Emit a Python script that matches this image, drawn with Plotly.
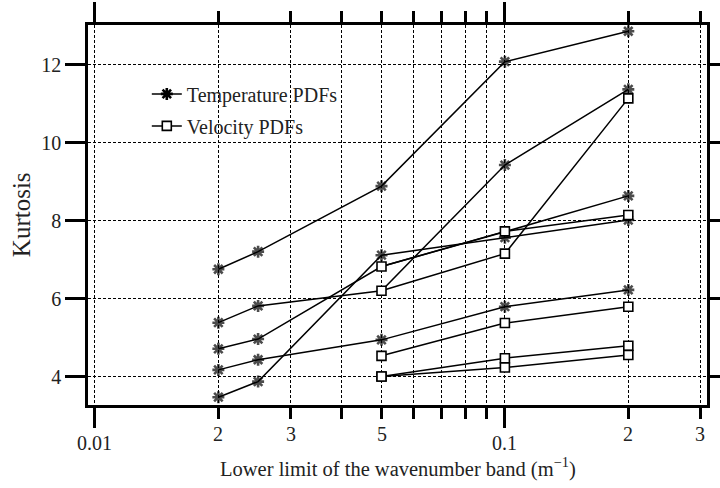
import math
import plotly.graph_objects as go

# ---------------- data ----------------
x_temp = [0.02, 0.025, 0.05, 0.1, 0.2]
temp_series = [
    [6.76, 7.21, 8.89, 12.08, 12.86],
    [5.39, 5.82, 6.21, 9.43, 11.37],
    [4.72, 4.97, 6.83, 7.72, 8.64],
    [4.18, 4.44, 4.95, 5.80, 6.23],
    [3.48, 3.88, 7.12, 7.57, 8.02],
]
x_vel = [0.05, 0.1, 0.2]
vel_series = [
    [6.21, 7.16, 11.14],
    [6.83, 7.73, 8.15],
    [4.54, 5.38, 5.80],
    [4.01, 4.48, 4.80],
    [4.01, 4.24, 4.56],
]
major_ticks = [0.01, 0.1]
minor_ticks = [0.02, 0.03, 0.04, 0.05, 0.06, 0.07, 0.08, 0.09, 0.2, 0.3]
x_tick_labels = [(0.01, "0.01", True), (0.02, "2", False), (0.03, "3", False),
                 (0.05, "5", False), (0.1, "0.1", True), (0.2, "2", False),
                 (0.3, "3", False)]
y_ticks = [4, 6, 8, 10, 12]
legend_names = ["Temperature PDFs", "Velocity PDFs"]

FONT = "Liberation Serif"
fig = go.Figure()

# hide temperature markers where a velocity square sits on the same spot
def covered(x, y):
    for vs in vel_series:
        for xv, yv in zip(x_vel, vs):
            if abs(xv - x) < 1e-9 and abs(yv - y) < 0.05:
                return True
    return False

for ys in temp_series:
    sizes = [0 if covered(x, y) else 10 for x, y in zip(x_temp, ys)]
    fig.add_trace(go.Scatter(
        x=x_temp, y=ys, mode="lines+markers", showlegend=False,
        line=dict(color="black", width=1.5),
        marker=dict(symbol="asterisk-open", size=sizes, color="black",
                    line=dict(color="black", width=2.6)),
    ))
for ys in vel_series:
    fig.add_trace(go.Scatter(
        x=x_vel, y=ys, mode="lines+markers", showlegend=False,
        line=dict(color="black", width=1.5),
        marker=dict(symbol="square", size=9, color="white",
                    line=dict(color="black", width=1.6)),
    ))

# legend entries
fig.add_trace(go.Scatter(
    x=[None], y=[None], mode="lines+markers", name=legend_names[0],
    legendgroup="t", line=dict(color="black", width=1.5),
    marker=dict(symbol="asterisk-open", size=10, color="black",
                line=dict(color="black", width=2.6))))
fig.add_trace(go.Scatter(
    x=[None], y=[None], mode="lines+markers", name=legend_names[1],
    legendgroup="v", line=dict(color="black", width=1.5),
    marker=dict(symbol="square", size=9, color="white",
                line=dict(color="black", width=1.6))))

grid = dict(showgrid=True, gridcolor="black", gridwidth=1, griddash="3px,2px")

fig.update_xaxes(
    type="log", range=[-2.017, -0.507], automargin=False,
    tickmode="array", tickvals=major_ticks, showticklabels=False,
    ticks="outside", ticklen=20, tickwidth=2.5, tickcolor="black",
    showline=True, linewidth=2.5, linecolor="black", mirror="allticks",
    zeroline=False,
    minor=dict(tickmode="array", tickvals=minor_ticks, ticks="outside",
               ticklen=11, tickwidth=2.5, tickcolor="black", **grid),
    **grid,
)
fig.update_yaxes(
    range=[3.28, 13.02], tickmode="array", tickvals=y_ticks, automargin=False,
    ticks="outside", ticklen=20, tickwidth=2.5, tickcolor="black",
    tickfont=dict(family=FONT, size=20, color="#222"),
    showline=True, linewidth=2.5, linecolor="black", mirror="allticks",
    zeroline=False, **grid,
)

annotations = []
for xv, txt, is_major in x_tick_labels:
    annotations.append(dict(
        x=math.log10(xv), y=-0.1 if is_major else -0.076, xref="x", yref="paper",
        text=txt, showarrow=False, xanchor="center", yanchor="middle",
        font=dict(family=FONT, size=20, color="#222")))
annotations.append(dict(
    x=0.5, y=-0.165, xref="paper", yref="paper", xanchor="center",
    yanchor="middle", showarrow=False,
    text="Lower limit of the wavenumber band (m<sup>−1</sup>)",
    font=dict(family=FONT, size=20.5, color="#222")))
annotations.append(dict(
    x=-0.108, y=0.5, xref="paper", yref="paper", xanchor="center",
    yanchor="middle", showarrow=False, textangle=-90, text="Kurtosis",
    font=dict(family=FONT, size=25, color="#222")))

fig.update_layout(
    width=720, height=488,
    margin=dict(l=88, r=13, t=25, b=83),
    paper_bgcolor="white", plot_bgcolor="white",
    showlegend=True,
    legend=dict(x=0.095, y=0.87, xanchor="left", yanchor="top",
                bgcolor="rgba(0,0,0,0)", tracegroupgap=3,
                font=dict(family=FONT, size=20, color="#222")),
    annotations=annotations,
)

fig.write_html("out.html")
